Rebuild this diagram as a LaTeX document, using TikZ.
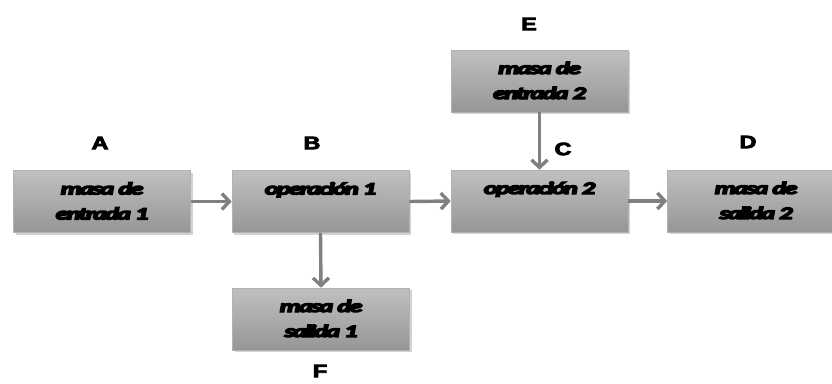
\documentclass[tikz,border=0pt]{standalone}
\usepackage{fontspec}
\usepackage{graphicx}
\setmainfont{Carlito}
\newfontfamily\boxfont[FakeBold=7,LetterSpace=-7]{Carlito}
\newfontfamily\lblfont[FakeBold=4]{Liberation Sans}
\usetikzlibrary{arrows.meta,shadows}
\definecolor{boxtop}{RGB}{192,192,192}
\definecolor{boxbot}{RGB}{150,150,150}
\definecolor{boxline}{RGB}{178,178,178}
\definecolor{arr}{RGB}{128,128,128}
\newcommand{\sq}[1]{\scalebox{1.5}[1]{#1}}
\newcommand{\boxtext}[1]{\parbox[c][62pt][t]{177pt}{\centering\boxfont\fontsize{17.5}{25}\selectfont\bfseries\itshape\baselineskip=25pt\rule{0pt}{24pt}#1\par}}
\begin{document}
\begin{tikzpicture}[x=1pt,y=-1pt,
  blk/.style={draw=boxline, line width=0.6pt, top color=boxtop, bottom color=boxbot,
    inner sep=0pt, minimum width=177pt, minimum height=62pt,
    drop shadow={shadow xshift=2pt, shadow yshift=-2pt, opacity=0.35}},
  lbl/.style={font=\lblfont\bfseries\fontsize{18}{18}\selectfont, inner sep=0pt},
  flow/.style={draw=arr, line width=3.4pt, -{Straight Barb[length=7.5pt,width=16pt,line width=3.4pt]}}]
\useasboundingbox (0,0) rectangle (832,383);
\begin{scope}
\clip (0,0) rectangle (832,383);
\node[blk] (A) at (102,201.5) {\boxtext{\sq{masa de}\\\sq{entrada 1}}};
\node[blk] (B) at (320.5,201.5) {\boxtext{\sq{operación 1}}};
\node[blk] (E) at (539.5,81) {\boxtext{\sq{masa de}\\\sq{entrada 2}}};
\node[blk] (C) at (539.5,201) {\boxtext{\sq{operación 2}}};
\node[blk] (D) at (756,201) {\boxtext{\sq{masa de}\\\sq{salida 2}}};
\node[blk] (F) at (321,319) {\boxtext{\sq{masa de}\\\sq{salida 1}}};

\node[lbl] (lA) at (100,143) {\scalebox{1.3}[1]{A}};
\node[lbl] (lB) at (312,143) {\scalebox{1.3}[1]{B}};
\node[lbl] (lE) at (529,24) {\scalebox{1.3}[1]{E}};
\node[lbl] (lC) at (563,149) {\scalebox{1.3}[1]{C}};
\node[lbl] (lD) at (748,142) {\scalebox{1.3}[1]{D}};
\node[lbl] (lF) at (320,371) {\scalebox{1.3}[1]{F}};

\draw[flow] (A.east) -- (B.west);
\draw[flow] (B.east) -- (C.west);
\draw[flow] (C.east) -- (D.west);
\draw[flow] (E.south) -- (C.north);
\draw[flow] (B.south) -- (F.north);
\end{scope}
\end{tikzpicture}
\end{document}
